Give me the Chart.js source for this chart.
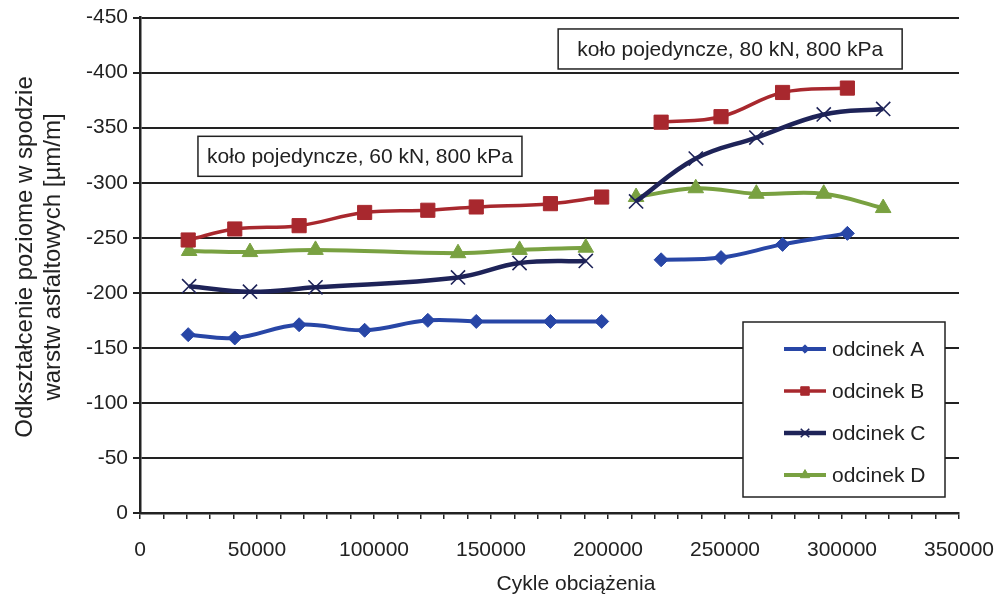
<!DOCTYPE html>
<html>
<head>
<meta charset="utf-8">
<script src="https://cdn.jsdelivr.net/npm/chart.js@4.4.1/dist/chart.umd.min.js"></script>
<style>
  html, body { margin: 0; padding: 0; background: #fff; }
  #wrap { width: 1000px; height: 604px; position: relative; }
</style>
</head>
<body>
<div id="wrap"><canvas id="strainChart"></canvas></div>
<script>
// load cycles, two test stages (60 kN and 80 kN)
const cyclesAB60 = [20600, 40500, 68000, 96000, 123000, 143700, 175400, 197300];
const cyclesAB80 = [222700, 248300, 274600, 302300];
const cyclesCD60 = [21000, 47000, 75000, 135900, 162200, 190500];
const cyclesCD80 = [212000, 237500, 263400, 292200, 317600];

// strain at the bottom of asphalt layers [um/m]
const strainA60 = [-162, -159, -171, -166, -175, -174, -174, -174];
const strainA80 = [-230, -232, -244, -254];
const strainB60 = [-248, -258, -261, -273, -275, -278, -281, -287];
const strainB80 = [-355, -360, -382, -386];
const strainC60 = [-206, -201, -205, -214, -227, -229];
const strainC80 = [-283, -322, -341, -362, -367];
const strainD60 = [-238, -237, -239, -236, -239, -241];
const strainD80 = [-287, -295, -290, -290, -277];

const seriesNames = ["odcinek A", "odcinek B", "odcinek C", "odcinek D"];
const noteTexts = ["koło pojedyncze, 60 kN, 800 kPa", "koło pojedyncze, 80 kN, 800 kPa"];
const yTitle = ["Odkształcenie poziome w spodzie", "warstw asfaltowych [µm/m]"];
const xTitle = "Cykle obciążenia";

const FONT = '"Liberation Sans", Arial, sans-serif';
const INK = "#222";

function joinStages(xs1, ys1, xs2, ys2) {
  const pts = xs1.map((x, i) => ({ x: x, y: ys1[i] }));
  pts.push({ x: null, y: null }); // gap between the two load levels
  return pts.concat(xs2.map((x, i) => ({ x: x, y: ys2[i] })));
}

const styles = [
  { color: "#2846A6", pointStyle: "rectRot", radius: 7, width: 4, pw: 1 },
  { color: "#A8282E", pointStyle: "rect", radius: 10, width: 3.5, pw: 1 },
  { color: "#1E2358", pointStyle: "crossRot", radius: 10, width: 4.5, pw: 1.6 },
  { color: "#79A141", pointStyle: "triangle", radius: 9, width: 4, pw: 1 },
];

const seriesData = [
  joinStages(cyclesAB60, strainA60, cyclesAB80, strainA80),
  joinStages(cyclesAB60, strainB60, cyclesAB80, strainB80),
  joinStages(cyclesCD60, strainC60, cyclesCD80, strainC80),
  joinStages(cyclesCD60, strainD60, cyclesCD80, strainD80),
];

const datasets = seriesNames.map((name, i) => ({
  label: name,
  data: seriesData[i],
  borderColor: styles[i].color,
  backgroundColor: styles[i].color,
  borderWidth: styles[i].width,
  pointStyle: styles[i].pointStyle,
  pointRadius: styles[i].radius,
  pointBorderWidth: styles[i].pw,
  pointBorderColor: styles[i].color,
  pointBackgroundColor: styles[i].color,
  tension: 0.4,
  fill: false,
  spanGaps: false,
}));

// text boxes anchored in data coordinates (box centre)
const notes = [
  { text: noteTexts[0], x: 94000, y: -324, w: 324 },
  { text: noteTexts[1], x: 252200, y: -421.5, w: 344 },
];

const notesPlugin = {
  id: "notes",
  afterDatasetsDraw(chart) {
    const { ctx } = chart;
    const xs = chart.scales.x, ys = chart.scales.y;
    ctx.save();
    ctx.font = "21px " + FONT;
    ctx.textAlign = "center";
    ctx.textBaseline = "middle";
    notes.forEach(n => {
      const cx = xs.getPixelForValue(n.x), cy = ys.getPixelForValue(n.y);
      const w = n.w, h = 40;
      ctx.fillStyle = "#fff";
      ctx.fillRect(cx - w / 2, cy - h / 2, w, h);
      ctx.strokeStyle = INK;
      ctx.lineWidth = 1.5;
      ctx.strokeRect(cx - w / 2, cy - h / 2, w, h);
      ctx.fillStyle = INK;
      ctx.fillText(n.text, cx, cy + 1);
    });
    ctx.restore();
  },
};

const legendPlugin = {
  id: "boxLegend",
  afterDraw(chart) {
    const { ctx, chartArea } = chart;
    const left = chartArea.right - 216, top = 322, w = 202, h = 175;
    ctx.save();
    ctx.fillStyle = "#fff";
    ctx.fillRect(left, top, w, h);
    ctx.strokeStyle = INK;
    ctx.lineWidth = 1.5;
    ctx.strokeRect(left, top, w, h);
    ctx.font = "21px " + FONT;
    ctx.textBaseline = "middle";
    ctx.textAlign = "left";
    seriesNames.forEach((name, i) => {
      const y = top + 27 + i * 42;
      const st = styles[i];
      ctx.strokeStyle = st.color;
      ctx.lineWidth = st.width;
      ctx.beginPath();
      ctx.moveTo(left + 41, y);
      ctx.lineTo(left + 83, y);
      ctx.stroke();
      ctx.fillStyle = st.color;
      ctx.lineWidth = st.pw;
      Chart.helpers.drawPoint(ctx, { pointStyle: st.pointStyle, radius: st.radius * 0.6, rotation: 0, borderWidth: st.pw }, left + 62, y);
      ctx.fillStyle = INK;
      ctx.fillText(name, left + 89, y + 1);
    });

    // axis titles
    ctx.textAlign = "center";
    ctx.fillText(xTitle, 576, 584);
    ctx.font = "24px " + FONT;
    ctx.translate(0, 257);
    ctx.rotate(-Math.PI / 2);
    ctx.fillText(yTitle[0], 0, 25);
    ctx.fillText(yTitle[1], 0, 53);
    ctx.restore();
  },
};

new Chart(document.getElementById("strainChart"), {
  type: "line",
  data: { datasets: datasets },
  options: {
    responsive: true,
    maintainAspectRatio: false,
    animation: false,
    layout: { padding: { top: 15, right: 41, left: 0, bottom: 0 } },
    plugins: { legend: { display: false }, tooltip: { enabled: false } },
    scales: {
      x: {
        type: "linear",
        min: 0,
        max: 350000,
        afterFit: s => { s.height = 91; s.paddingRight = 0; s.paddingLeft = 0; },
        ticks: {
          stepSize: 10000,
          autoSkip: false,
          maxRotation: 0,
          padding: 19,
          color: INK,
          font: { family: FONT, size: 21 },
          callback: v => (v % 50000 === 0 ? String(v) : ""),
        },
        grid: { drawOnChartArea: false, drawTicks: true, tickLength: 6, color: INK, lineWidth: 1.5 },
        border: { color: INK, width: 2.5 },
      },
      y: {
        type: "linear",
        reverse: true,
        min: -450,
        max: 0,
        afterFit: s => { s.width = 140; },
        ticks: {
          stepSize: 50,
          padding: 5,
          color: INK,
          font: { family: FONT, size: 21 },
        },
        grid: { color: INK, lineWidth: 2, tickLength: 7 },
        border: { color: INK, width: 2.5 },
      },
    },
  },
  plugins: [notesPlugin, legendPlugin],
});
</script>
</body>
</html>
